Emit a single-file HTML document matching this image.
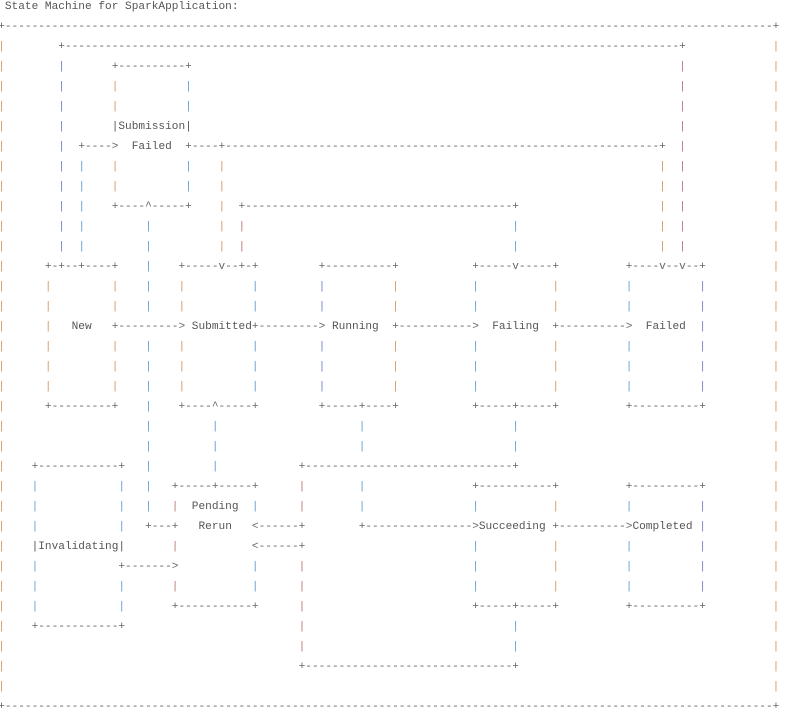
<!DOCTYPE html>
<html><head><meta charset="utf-8"><style>
html,body{margin:0;padding:0;background:#fff;width:793px;height:713px;overflow:hidden}
#g{position:absolute;left:-1.8px;top:-3px;font:11.13px/20px "Liberation Mono",monospace;color:#666}
.s{position:absolute;white-space:pre;left:calc(var(--c)*1ch);top:calc(var(--r)*20px)}
.t{color:#555}
.O{color:#d49a68}.B{color:#6a9fd4}.P{color:#7b84c4}.R{color:#b87a7a}
</style></head><body><div id="g">
<span class="s t" style="--c:1;--r:0">State Machine for SparkApplication:</span>
<span class="s" style="--c:0;--r:1">+-------------------------------------------------------------------------------------------------------------------+</span>
<span class="s" style="--c:0;--r:35">+-------------------------------------------------------------------------------------------------------------------+</span>
<span class="s" style="--c:9;--r:2">+--------------------------------------------------------------------------------------------+</span>
<span class="s" style="--c:17;--r:3">+----------+</span>
<span class="s t" style="--c:17;--r:6">|Submission|</span>
<span class="s" style="--c:12;--r:7">+---->  <span class="t">Failed</span>  +----+-----------------------------------------------------------------+</span>
<span class="s" style="--c:17;--r:10">+----^-----+</span>
<span class="s" style="--c:36;--r:10">+----------------------------------------+</span>
<span class="s" style="--c:7;--r:13">+-+--+----+</span>
<span class="s" style="--c:27;--r:13">+-----v--+-+</span>
<span class="s" style="--c:48;--r:13">+----------+</span>
<span class="s" style="--c:71;--r:13">+-----v-----+</span>
<span class="s" style="--c:94;--r:13">+----v--v--+</span>
<span class="s t" style="--c:11;--r:16">New</span>
<span class="s" style="--c:17;--r:16">+---------></span>
<span class="s" style="--c:29;--r:16"><span class="t">Submitted</span>+---------></span>
<span class="s t" style="--c:50;--r:16">Running</span>
<span class="s" style="--c:59;--r:16">+-----------></span>
<span class="s t" style="--c:74;--r:16">Failing</span>
<span class="s" style="--c:83;--r:16">+----------></span>
<span class="s t" style="--c:97;--r:16">Failed</span>
<span class="s" style="--c:7;--r:20">+---------+</span>
<span class="s" style="--c:27;--r:20">+----^-----+</span>
<span class="s" style="--c:48;--r:20">+-----+----+</span>
<span class="s" style="--c:71;--r:20">+-----+-----+</span>
<span class="s" style="--c:94;--r:20">+----------+</span>
<span class="s" style="--c:5;--r:23">+------------+</span>
<span class="s" style="--c:45;--r:23">+-------------------------------+</span>
<span class="s" style="--c:26;--r:24">+-----+-----+</span>
<span class="s" style="--c:71;--r:24">+-----------+</span>
<span class="s" style="--c:94;--r:24">+----------+</span>
<span class="s t" style="--c:29;--r:25">Pending</span>
<span class="s" style="--c:22;--r:26">+---+</span>
<span class="s t" style="--c:30;--r:26">Rerun</span>
<span class="s" style="--c:38;--r:26">&lt;------+</span>
<span class="s" style="--c:54;--r:26">+----------------&gt;<span class="t">Succeeding</span> +----------&gt;<span class="t">Completed</span> <span class="P">|</span></span>
<span class="s t" style="--c:5;--r:27">|Invalidating|</span>
<span class="s" style="--c:38;--r:27">&lt;------+</span>
<span class="s" style="--c:18;--r:28">+-------&gt;</span>
<span class="s" style="--c:26;--r:30">+-----------+</span>
<span class="s" style="--c:71;--r:30">+-----+-----+</span>
<span class="s" style="--c:94;--r:30">+----------+</span>
<span class="s" style="--c:5;--r:31">+------------+</span>
<span class="s" style="--c:45;--r:33">+-------------------------------+</span>

<span class="s O" style="--c:0;--r:2">|
|
|
|
|
|
|
|
|
|
|
|
|
|
|
|
|
|
|
|
|
|
|
|
|
|
|
|
|
|
|
|
|</span>
<span class="s O" style="--c:116;--r:2">|
|
|
|
|
|
|
|
|
|
|
|
|
|
|
|
|
|
|
|
|
|
|
|
|
|
|
|
|
|
|
|
|</span>
<span class="s P" style="--c:9;--r:3">|
|
|
|
|
|
|
|
|
|</span>
<span class="s R" style="--c:102;--r:3">|
|
|
|
|
|
|
|
|
|</span>
<span class="s O" style="--c:99;--r:8">|
|
|
|
|</span>
<span class="s O" style="--c:17;--r:4">|
|


|
|</span>
<span class="s B" style="--c:28;--r:4">|
|


|
|</span>
<span class="s B" style="--c:12;--r:8">|
|
|
|
|</span>
<span class="s O" style="--c:33;--r:8">|
|
|
|
|</span>
<span class="s B" style="--c:22;--r:11">|
|
|
|
|

|
|
|
|
|
|
|
|
|</span>
<span class="s R" style="--c:36;--r:11">|
|</span>
<span class="s B" style="--c:77;--r:11">|
|</span>
<span class="s O" style="--c:7;--r:14">|
|
|
|
|
|</span>
<span class="s O" style="--c:17;--r:14">|
|

|
|
|</span>
<span class="s O" style="--c:27;--r:14">|
|

|
|
|</span>
<span class="s B" style="--c:38;--r:14">|
|

|
|
|</span>
<span class="s P" style="--c:48;--r:14">|
|

|
|
|</span>
<span class="s O" style="--c:59;--r:14">|
|

|
|
|</span>
<span class="s B" style="--c:71;--r:14">|
|

|
|
|</span>
<span class="s O" style="--c:83;--r:14">|
|

|
|
|</span>
<span class="s B" style="--c:94;--r:14">|
|

|
|
|</span>
<span class="s P" style="--c:105;--r:14">|
|
|
|
|
|</span>
<span class="s B" style="--c:32;--r:21">|
|
|</span>
<span class="s B" style="--c:54;--r:21">|
|

|
|</span>
<span class="s B" style="--c:77;--r:21">|
|</span>
<span class="s B" style="--c:5;--r:24">|
|
|

|
|
|</span>
<span class="s B" style="--c:18;--r:24">|
|
|


|
|</span>
<span class="s R" style="--c:26;--r:25">|

|

|</span>
<span class="s B" style="--c:38;--r:25">|


|
|</span>
<span class="s R" style="--c:45;--r:24">|
|


|
|
|
|
|</span>
<span class="s B" style="--c:71;--r:25">|

|
|
|</span>
<span class="s O" style="--c:83;--r:25">|

|
|
|</span>
<span class="s B" style="--c:94;--r:25">|

|
|
|</span>
<span class="s P" style="--c:105;--r:25">|

|
|
|</span>
<span class="s B" style="--c:77;--r:31">|
|</span>
</div></body></html>
